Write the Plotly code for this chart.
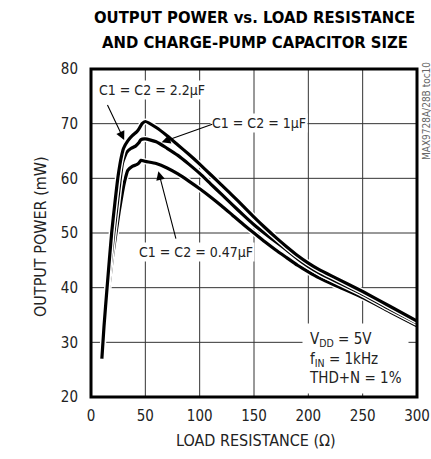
import plotly.graph_objects as go

# ---- data ----
r_22 = [10, 12, 15, 19, 22, 25, 28, 30, 34, 38, 42, 44, 47, 50, 60, 70, 80, 90, 100, 110, 120, 130, 140, 150, 160, 170, 180, 190, 200, 210, 225, 250, 275, 300]
p_22 = [27, 33, 40.5, 50, 55.5, 60.5, 64, 65.5, 66.9, 67.8, 68.5, 69.0, 70.0, 70.4, 69.3, 67.8, 66.1, 64.4, 62.6, 60.7, 58.8, 56.9, 54.9, 52.9, 51.0, 49.2, 47.5, 45.9, 44.5, 43.3, 41.8, 39.3, 36.6, 33.9]

r_10 = [10, 12, 15, 17, 21, 24, 27, 29, 33, 37, 41, 44, 46, 50, 60, 70, 80, 90, 100, 110, 120, 130, 140, 150, 160, 170, 180, 190, 200, 210, 225, 250, 275, 300]
p_10 = [27, 32.5, 39.5, 43, 50, 55, 60, 62.8, 64.8, 65.5, 65.9, 66.5, 67.1, 67.2, 66.7, 65.5, 64.2, 62.6, 60.9, 59.0, 57.1, 55.2, 53.3, 51.5, 49.9, 48.4, 46.9, 45.3, 43.9, 42.7, 41.2, 38.8, 36.1, 33.5]

r_047 = [10, 12, 15, 17, 20, 23, 26, 29, 31, 34, 38, 42, 44, 46, 50, 60, 70, 80, 90, 100, 110, 120, 130, 140, 150, 160, 170, 180, 190, 200, 210, 225, 250, 275, 300]
p_047 = [27, 32, 38.5, 41, 46, 50, 54, 57.5, 59.5, 61.5, 62.2, 62.5, 62.8, 63.3, 63.1, 62.7, 61.9, 60.8, 59.5, 58.1, 56.6, 55.0, 53.3, 51.6, 50.0, 48.4, 46.9, 45.5, 44.1, 42.9, 41.8, 40.4, 38.2, 35.6, 33.0]

x_ticks = [0, 50, 100, 150, 200, 250, 300]
y_ticks = [20, 30, 40, 50, 60, 70, 80]

title_lines = ["OUTPUT POWER vs. LOAD RESISTANCE", "AND CHARGE-PUMP CAPACITOR SIZE"]
x_title = "LOAD RESISTANCE (Ω)"
y_title = "OUTPUT POWER (mW)"
label_22 = "C1 = C2 = 2.2µF"
label_10 = "C1 = C2 = 1µF"
label_047 = "C1 = C2 = 0.47µF"
cond_text = "V<sub>DD</sub> = 5V<br>f<sub>IN</sub> = 1kHz<br>THD+N = 1%"
toc = "MAX9728A/28B toc10"

FONT = "DejaVu Sans Condensed, Liberation Sans Narrow, Roboto, sans-serif"

fig = go.Figure()
for rr, pp in [(r_047, p_047), (r_10, p_10), (r_22, p_22)]:
    fig.add_trace(go.Scatter(x=rr, y=pp, mode="lines",
                             line=dict(color="white", width=6, shape="spline", smoothing=0.5),
                             hoverinfo="skip", showlegend=False))
    fig.add_trace(go.Scatter(x=rr, y=pp, mode="lines",
                             line=dict(color="black", width=3.2, shape="spline", smoothing=0.5),
                             showlegend=False))

axis_common = dict(showline=False, showgrid=False, zeroline=False,
                   ticks="outside", tickcolor="white", automargin=False,
                   tickfont=dict(family=FONT, size=15, color="#222"))

fig.update_xaxes(range=[0, 300], tickvals=x_ticks, ticklen=5, **axis_common)
fig.update_yaxes(range=[20, 80], tickvals=y_ticks, ticklen=9, **axis_common)

# grid and frame as shapes
shapes = []
for xv in x_ticks[1:-1]:
    shapes.append(dict(type="line", xref="x", yref="paper", x0=xv, x1=xv, y0=0, y1=1,
                       line=dict(color="#333333", width=1), layer="below"))
for yv in y_ticks[1:-1]:
    shapes.append(dict(type="line", xref="paper", yref="y", x0=0, x1=1, y0=yv, y1=yv,
                       line=dict(color="#333333", width=1), layer="below"))
shapes.append(dict(type="rect", xref="paper", yref="paper", x0=0, x1=1, y0=0, y1=1,
                   line=dict(color="black", width=3), fillcolor="rgba(0,0,0,0)", layer="above"))

ann = []
mid = dict(xanchor="center", yanchor="middle")
# titles
ann.append(dict(text="<b>%s</b>" % title_lines[0], xref="paper", yref="paper", x=0.503, y=(397 - 18) / 328,
                showarrow=False, font=dict(family=FONT, size=16.5, color="black"), **mid))
ann.append(dict(text="<b>%s</b>" % title_lines[1], xref="paper", yref="paper", x=0.503, y=(397 - 42) / 328,
                showarrow=False, font=dict(family=FONT, size=16.5, color="black"), **mid))
# axis titles
ann.append(dict(text=x_title, xref="paper", yref="paper", x=(256 - 91) / 326, y=(397 - 440) / 328,
                showarrow=False, font=dict(family=FONT, size=16, color="#222"), **mid))
ann.append(dict(text=y_title, xref="paper", yref="paper", x=(40 - 91) / 326, y=(397 - 236) / 328, textangle=-90,
                showarrow=False, font=dict(family=FONT, size=16, color="#222"), **mid))
# curve labels
lab_font = dict(family=FONT, size=14, color="#222")
ann.append(dict(text=label_22, x=56, y=76.1, showarrow=False, bgcolor="white", font=lab_font, **mid))
ann.append(dict(text=label_10, x=155, y=70.1, showarrow=False, bgcolor="white", font=lab_font, **mid))
ann.append(dict(text=label_047, x=97, y=46.6, showarrow=False, bgcolor="white", font=lab_font, **mid))
# arrows
for (hx, hy, tx, ty) in [(30.5, 67.0, 14.5, 73.7), (65.0, 66.6, 113.0, 70.0), (62.0, 61.3, 78.5, 48.7)]:
    ann.append(dict(text="", x=hx, y=hy, ax=tx, ay=ty, axref="x", ayref="y",
                    showarrow=True, arrowhead=2, arrowsize=1.6, arrowwidth=1.1, arrowcolor="black"))
# conditions box
ann.append(dict(text=cond_text, x=194, y=27.0, xanchor="left", yanchor="middle", align="left", showarrow=False,
                bgcolor="white", borderpad=6, font=dict(family=FONT, size=15, color="#222")))
# toc id
ann.append(dict(text=toc, xref="paper", yref="paper", x=(426 - 91) / 326, y=(397 - 111) / 328, textangle=-90,
                showarrow=False, font=dict(family=FONT, size=10, color="#666"), **mid))

fig.update_layout(template="none", width=431, height=459, margin=dict(l=91, r=14, t=69, b=62),
                  paper_bgcolor="white", plot_bgcolor="white", annotations=ann, shapes=shapes)

fig.write_html("out.html", config={"displayModeBar": False},
               post_script="document.body.style.margin='0';")
